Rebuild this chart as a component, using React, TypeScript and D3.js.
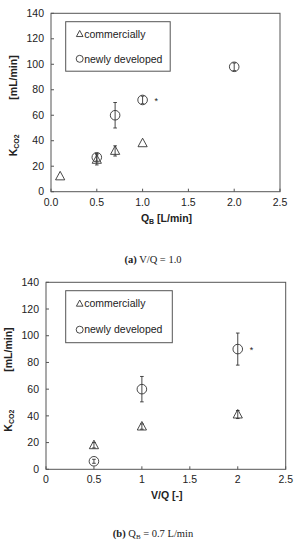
import * as d3 from 'd3';
import React, { useEffect, useRef } from 'react';

// (a) V/Q = 1.0
const aCommX = [0.1, 0.5, 0.7, 1.0];
const aCommY = [12, 25, 32, 38];
const aCommErr = [0, 4, 4, 0];
const aNewX = [0.5, 0.7, 1.0, 2.0];
const aNewY = [27, 60, 72, 98];
const aNewErr = [3, 10, 3, 3];
const aXTicks = ['0.0', '0.5', '1.0', '1.5', '2.0', '2.5'];
const aStar = [1.0, 72];

// (b) Q_B = 0.7 L/min
const bCommX = [0.5, 1, 2];
const bCommY = [18, 32, 41];
const bCommErr = [2, 2, 3];
const bNewX = [0.5, 1, 2];
const bNewY = [6, 60, 90];
const bNewErr = [1.5, 9.5, 12];
const bXTicks = ['0', '0.5', '1', '1.5', '2', '2.5'];
const bStar = [2, 90];

const yTicks = [0, 20, 40, 60, 80, 100, 120, 140];
const legendLabels = ['commercially', 'newly developed'];

const FONT = 'Liberation Sans, Arial, sans-serif';
const LINE = '#555';
const MARK = '#333';

function tri(s: number) {
  return `M0,${-s * 1.1}L${s},${s * 0.75}L${-s},${s * 0.75}Z`;
}

interface PanelOpts {
  top: number; left: number; right: number; bottom: number;
  xTicks: string[]; commX: number[]; commY: number[]; commErr: number[];
  newX: number[]; newY: number[]; newErr: number[]; star: number[];
  xTitle: 'qb' | 'vq'; caption: string; captionY: number; titleX: number;
  legendBox: [number, number, number, number];
}

function drawPanel(svg: d3.Selection<SVGSVGElement, unknown, null, undefined>, o: PanelOpts) {
  const x = d3.scaleLinear().domain([0, 2.5]).range([o.left, o.right]);
  const y = d3.scaleLinear().domain([0, 140]).range([o.bottom, o.top]);
  const g = svg.append('g');

  g.append('rect')
    .attr('x', o.left).attr('y', o.top)
    .attr('width', o.right - o.left).attr('height', o.bottom - o.top)
    .attr('fill', 'none').attr('stroke', LINE).attr('stroke-width', 1);

  // ticks
  yTicks.forEach(t => {
    g.append('line').attr('x1', o.left).attr('x2', o.left + 3)
      .attr('y1', y(t)).attr('y2', y(t)).attr('stroke', LINE);
    g.append('text').attr('x', o.left - 7).attr('y', y(t))
      .attr('dy', '0.35em').attr('text-anchor', 'end')
      .attr('font-family', FONT).attr('font-size', 10.5).attr('fill', '#222')
      .text(t);
  });
  o.xTicks.forEach(t => {
    const v = +t;
    g.append('line').attr('x1', x(v)).attr('x2', x(v))
      .attr('y1', o.bottom).attr('y2', o.bottom - 3).attr('stroke', LINE);
    g.append('text').attr('x', x(v)).attr('y', o.bottom + 14)
      .attr('text-anchor', 'middle')
      .attr('font-family', FONT).attr('font-size', 10.5).attr('fill', '#222')
      .text(t);
  });

  // x title
  const xt = g.append('text').attr('x', (o.left + o.right) / 2 + 1).attr('y', o.bottom + 30)
    .attr('text-anchor', 'middle').attr('font-family', FONT)
    .attr('font-size', 10.5).attr('font-weight', 'bold').attr('fill', '#222');
  if (o.xTitle === 'qb') {
    xt.append('tspan').text('Q');
    xt.append('tspan').attr('font-size', 7).attr('dy', 2).text('B');
    xt.append('tspan').attr('dy', -2).text(' [L/min]');
  } else {
    xt.text('V/Q [-]');
  }

  // y title, two parts
  const h = o.bottom - o.top;
  const k = g.append('text')
    .attr('transform', `translate(${o.titleX},${o.top + h * 0.74}) rotate(-90)`)
    .attr('text-anchor', 'middle').attr('font-family', FONT)
    .attr('font-size', 10.5).attr('font-weight', 'bold').attr('fill', '#222');
  k.append('tspan').text('K');
  k.append('tspan').attr('font-size', 7).attr('dy', 2).text('CO2');
  g.append('text')
    .attr('transform', `translate(${o.titleX},${o.top + h * 0.36}) rotate(-90)`)
    .attr('text-anchor', 'middle').attr('font-family', FONT)
    .attr('font-size', 10.5).attr('font-weight', 'bold').attr('fill', '#222')
    .text('[mL/min]');

  // legend
  const [lx, ly, lw, lh] = o.legendBox;
  g.append('rect').attr('x', lx).attr('y', ly).attr('width', lw).attr('height', lh)
    .attr('fill', 'white').attr('stroke', LINE);
  const row1 = ly + lh * 0.25, row2 = ly + lh * 0.75;
  g.append('path').attr('d', tri(3.3)).attr('transform', `translate(${lx + 14},${row1})`)
    .attr('fill', 'none').attr('stroke', MARK).attr('stroke-width', 0.9);
  g.append('circle').attr('cx', lx + 14).attr('cy', row2).attr('r', 3.5)
    .attr('fill', 'none').attr('stroke', MARK).attr('stroke-width', 0.9);
  legendLabels.forEach((l, i) => {
    g.append('text').attr('x', lx + 18.5).attr('y', i === 0 ? row1 : row2).attr('dy', '0.35em')
      .attr('font-family', FONT).attr('font-size', 10.5).attr('fill', '#222').text(l);
  });

  const errBars = (xs: number[], ys: number[], es: number[]) => {
    xs.forEach((v, i) => {
      if (!es[i]) return;
      const cx = x(v), y1 = y(ys[i] + es[i]), y2 = y(ys[i] - es[i]);
      g.append('line').attr('x1', cx).attr('x2', cx).attr('y1', y1).attr('y2', y2)
        .attr('stroke', MARK).attr('stroke-width', 0.9);
      [y1, y2].forEach(yy => g.append('line').attr('x1', cx - 1.8).attr('x2', cx + 1.8)
        .attr('y1', yy).attr('y2', yy).attr('stroke', MARK).attr('stroke-width', 0.9));
    });
  };

  // commercially: triangles
  errBars(o.commX, o.commY, o.commErr);
  o.commX.forEach((v, i) => {
    g.append('path').attr('d', tri(4.6))
      .attr('transform', `translate(${x(v)},${y(o.commY[i])})`)
      .attr('fill', 'none').attr('stroke', MARK).attr('stroke-width', 0.9);
  });

  // newly developed: circles
  errBars(o.newX, o.newY, o.newErr);
  o.newX.forEach((v, i) => {
    g.append('circle').attr('cx', x(v)).attr('cy', y(o.newY[i])).attr('r', 4.8)
      .attr('fill', 'none').attr('stroke', MARK).attr('stroke-width', 0.9);
  });

  g.append('text').attr('x', x(o.star[0]) + 12).attr('y', y(o.star[1]) + 4)
    .attr('font-family', FONT).attr('font-size', 9).attr('fill', '#222').text('*');

  // caption
  const c = g.append('text').attr('x', 153).attr('y', o.captionY)
    .attr('text-anchor', 'middle').attr('font-family', 'Liberation Serif, Times New Roman, serif')
    .attr('font-size', 10.5).attr('fill', '#222');
  const m = o.caption.match(/^\((\w)\)(.*)$/);
  if (m) {
    c.append('tspan').attr('font-weight', 'bold').text(`(${m[1]})`);
    const rest = m[2];
    if (rest.includes('QB')) {
      const [a, b] = rest.split('QB');
      c.append('tspan').text(a + 'Q');
      c.append('tspan').attr('font-size', 7).attr('dy', 1.5).text('B');
      c.append('tspan').attr('dy', -1.5).text(b);
    } else {
      c.append('tspan').text(rest);
    }
  }
}

export default function App() {
  const ref = useRef<SVGSVGElement>(null);
  useEffect(() => {
    const svg = d3.select(ref.current!);
    svg.selectAll('*').remove();
    drawPanel(svg, {
      top: 13.3, left: 51, right: 280, bottom: 191.7,
      xTicks: aXTicks, commX: aCommX, commY: aCommY, commErr: aCommErr,
      newX: aNewX, newY: aNewY, newErr: aNewErr, star: aStar,
      xTitle: 'qb', caption: '(a) V/Q = 1.0', captionY: 263, titleX: 17,
      legendBox: [65.7, 21.7, 104.5, 49.5],
    });
    drawPanel(svg, {
      top: 282.3, left: 46, right: 285.7, bottom: 469.3,
      xTicks: bXTicks, commX: bCommX, commY: bCommY, commErr: bCommErr,
      newX: bNewX, newY: bNewY, newErr: bNewErr, star: bStar,
      xTitle: 'vq', caption: '(b) QB = 0.7 L/min', captionY: 537, titleX: 12,
      legendBox: [65.7, 290.7, 106.6, 52],
    });
  }, []);
  return (
    <svg ref={ref} width={301} height={550}
      style={{ position: 'absolute', left: 0, top: 0, background: 'white' }} />
  );
}
